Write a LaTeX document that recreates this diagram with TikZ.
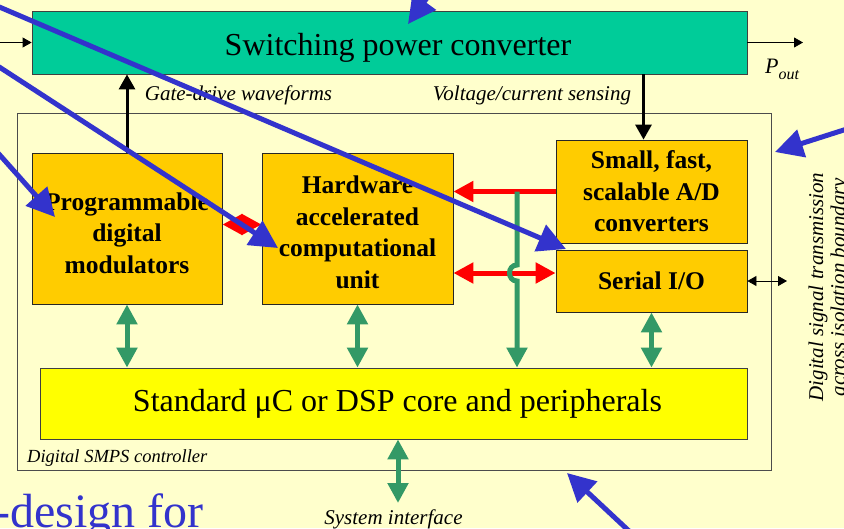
\documentclass[tikz,border=0pt]{standalone}
\usepackage{fontspec}
\setmainfont{Liberation Serif}
\usepackage{tikz}
\usetikzlibrary{arrows.meta,calc}
\definecolor{cBg}{HTML}{FFFFCC}
\definecolor{cConv}{HTML}{00CC99}
\definecolor{cBlock}{HTML}{FFCC00}
\definecolor{cCore}{HTML}{FFFF00}
\definecolor{cBus}{HTML}{339966}
\definecolor{cNote}{HTML}{3333CC}
\newcommand{\convfont}{\fontsize{32}{36}\selectfont}
\newcommand{\blkfont}{\fontsize{25.5}{31.5}\selectfont\bfseries}
\newcommand{\lblfont}{\fontsize{21}{22}\selectfont\itshape}
\newcommand{\smlfont}{\fontsize{18.5}{20}\selectfont\itshape}
\newcommand{\titlefont}{\fontsize{48}{50}\selectfont}

\begin{document}
\begin{tikzpicture}[x=1pt,y=-1pt,
    blk/.style={rectangle,draw=black!85,line width=0.8pt,fill=cBlock,inner sep=0pt,align=center,font=\blkfont},
    lbl/.style={inner sep=0pt,font=\lblfont},
    sig/.style={line width=0.8pt,>={Triangle[length=9pt,width=10pt]}},
    drive/.style={line width=3pt,>={Triangle[length=15pt,width=16pt]}},
    dat/.style={red,line width=5pt,>={Triangle[length=20pt,width=20pt]}},
    bus/.style={cBus,line width=5pt,>={Triangle[length=20pt,width=20pt]}},
    note/.style={cNote,line width=5pt,-{Triangle[length=28pt,width=28pt]}}
  ]
  \useasboundingbox (0,0) rectangle (844,528);
  \clip (0,0) rectangle (844,528);
  \fill[cBg] (0,0) rectangle (844,528);

  % blocks
  \node[draw=black!70,line width=0.8pt,minimum width=754pt,minimum height=357pt,inner sep=0pt] (ctrl) at (394,291.5) {};
  \node[draw=black!75,line width=0.8pt,fill=cConv,minimum width=715pt,minimum height=63pt,inner sep=0pt,
        text height=25pt,text depth=0pt,font=\convfont] (conv) at (389.5,42.5) {\hspace*{17pt}Switching power converter};
  \node[blk,minimum width=190pt,minimum height=151pt] (mod) at (127,228.5) {\rule{0pt}{27pt}Programmable\\digital\\modulators};
  \node[blk,minimum width=191pt,minimum height=151pt] (hw) at (357.5,228.5) {\rule{0pt}{25pt}Hardware\\accelerated\\computational\\unit};
  \node[blk,minimum width=191pt,minimum height=103pt] (adc) at (651.5,191.5) {Small, fast,\\scalable A/D\\converters};
  \node[blk,minimum width=191pt,minimum height=62pt] (sio) at (651.5,281) {Serial I/O};
  \node[draw=black!75,line width=0.8pt,fill=cCore,minimum width=707pt,minimum height=71pt,inner sep=0pt,
        text height=16pt,text depth=0pt,font=\convfont] (core) at (393.5,403.5) {\hspace*{8pt}Standard μC or DSP core and peripherals};

  % labels
  \node[lbl,anchor=base] (gate) at (238.5,100) {Gate-drive waveforms};
  \node[lbl,anchor=base] (sense) at (532,100) {Voltage/current sensing};
  \node[lbl,anchor=base west,font=\smlfont] (ctrllbl) at (27,462) {Digital SMPS controller};
  \node[lbl,anchor=base] (sysif) at (393.5,524) {System interface};
  \node[lbl,rotate=90,align=center] (iso) at (829,287) {Digital signal transmission\\across isolation boundary};
  \node[inner sep=0pt,anchor=base west] (poutlbl) at (765,73)
    {\fontsize{22}{22}\selectfont\itshape P\raisebox{-6pt}{\fontsize{16}{16}\selectfont out}};

  % power path and sensing
  \coordinate (pin) at (0,42.5);
  \coordinate (pout) at (803,42.5);
  \coordinate (isoport) at (787,281);
  \coordinate (sensetop) at ([xshift=-8pt]adc.north);
  \draw[sig,->] (pin) -- (conv.west);
  \draw[sig,->] (conv.east) -- (pout);
  \draw[sig,<->] (sio.east) -- (isoport);
  \draw[drive,->] (mod.north) -- (mod.north |- conv.south);
  \draw[drive,->] (sensetop |- conv.south) -- (sensetop);

  % data paths
  \draw[dat,->] (adc.west) -- (adc.west -| hw.east);
  \draw[dat,<->] ([yshift=8pt]sio.west -| hw.east) -- ([yshift=8pt]sio.west);
  \draw[dat,<->] ([yshift=4pt]mod.east) -- ([yshift=4pt]hw.west);

  % bus
  \coordinate (tap) at (517,191.5);
  \coordinate (hop) at (517,273);
  \coordinate (sysend) at (398,503);
  \draw[bus,<->] (mod.south) -- (mod.south |- core.north);
  \draw[bus,<->] (hw.south) -- (hw.south |- core.north);
  \draw[bus,<->] (sio.south) -- (sio.south |- core.north);
  \draw[bus,<->] (core.south -| sysend) -- (sysend);
  \draw[bus,->] (tap) -- ([yshift=8pt]hop) .. controls +(-10,0) and +(-10,0) .. ([yshift=-8pt]hop) -- (tap |- core.north);

  \node[anchor=base west,inner sep=0pt,text=cNote,font=\titlefont] (title) at (-6,527) {-design for};

  % pointers
  \coordinate (from1) at (-10,3);    \coordinate (to1) at (566,249);
  \coordinate (from2) at (-10,61);   \coordinate (to2) at (278,248);
  \coordinate (from3) at (-10,144);  \coordinate (to3) at (55,217);
  \coordinate (from4) at (440,-20);  \coordinate (to4) at (408,24);
  \coordinate (from5) at (850,128);  \coordinate (to5) at (775,152);
  \coordinate (from6) at (644,545);  \coordinate (to6) at (567,473);
  \draw[note] (from1) -- (to1);
  \draw[note] (from2) -- (to2);
  \draw[note] (from3) -- (to3);
  \draw[note] (from4) -- (to4);
  \draw[note] (from5) -- (to5);
  \draw[note] (from6) -- (to6);
\end{tikzpicture}
\end{document}
